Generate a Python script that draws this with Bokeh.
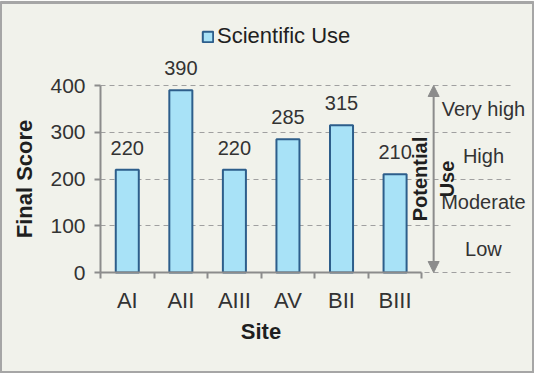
import math
from bokeh.plotting import figure
from bokeh.models import (Range1d, FixedTicker, ColumnDataSource, LabelSet, Label,
                          Arrow, NormalHead, Legend, LegendItem)
from bokeh.core.properties import value
from bokeh.embed import file_html
from bokeh.resources import INLINE

# ---- data ----
sites = ["AI", "AII", "AIII", "AV", "BII", "BIII"]
scores = [220, 390, 220, 285, 315, 210]
series_name = "Scientific Use"
y_ticks = [0, 100, 200, 300, 400]
levels = ["Low", "Moderate", "High", "Very high"]
level_bounds = [0, 100, 200, 300, 400]
x_title = "Site"
y_title = "Final Score"
side_title = "Potential\nUse"

# ---- style ----
BG = "#f1f2eb"
FONT = "Liberation Sans"
TXT = "#1f1f1f"
LBL = "#333333"
AXIS = "#8c8c8c"
GRID = "#a0a0a0"
BAR_FILL = "#a8e2f7"
BAR_LINE = "#2d5e8b"

W, H = 534, 373
TOP = 2
PX_X = 53.56           # px per category
PX_Y = 0.4675          # px per score unit
AXIS_LEFT_PX = 100     # y axis position from canvas left
AXIS_BOTTOM_PX = 270   # x axis position from frame top

xs = 0.5 - AXIS_LEFT_PX / PX_X
xe = xs + W / PX_X
ye = AXIS_BOTTOM_PX / PX_Y
ys = ye - (H - TOP) / PX_Y

x_pos = [i + 1 for i in range(len(sites))]
src = ColumnDataSource(dict(x=x_pos, site=sites, score=scores,
                            label=[str(s) for s in scores]))

p = figure(width=W, height=H, output_backend="svg", toolbar_location=None,
           x_range=Range1d(xs, xe), y_range=Range1d(ys, ye),
           min_border_left=0, min_border_right=0, min_border_top=TOP,
           min_border_bottom=0)
p.background_fill_color = BG
p.border_fill_color = BG
p.outline_line_color = "#a6a6a6"
p.outline_line_width = 3

bars = p.vbar(x="x", top="score", bottom=0, width=0.43, source=src,
              fill_color=BAR_FILL, line_color=BAR_LINE, line_width=2)

# grid
p.xgrid.visible = False
p.ygrid.ticker = FixedTicker(ticks=y_ticks)
p.ygrid.cross_bounds = (0.5, 8.23)
p.ygrid.grid_line_color = GRID
p.ygrid.grid_line_dash = "5 4"
p.ygrid.grid_line_width = 1

# y axis
yax = p.yaxis[0]
yax.fixed_location = 0.5
yax.bounds = (y_ticks[0], y_ticks[-1])
yax.ticker = FixedTicker(ticks=y_ticks)
yax.axis_line_color = AXIS
yax.axis_line_width = 2
yax.major_tick_line_color = AXIS
yax.major_tick_line_width = 2
yax.major_tick_out = 6
yax.major_tick_in = 0
yax.minor_tick_line_color = None
yax.major_label_text_font = FONT
yax.major_label_text_font_size = "21px"
yax.major_label_text_color = LBL
yax.major_label_standoff = 9
yax.axis_label = y_title
yax.axis_label_text_font = FONT
yax.axis_label_text_font_size = "22px"
yax.axis_label_text_font_style = "bold"
yax.axis_label_text_color = TXT
yax.axis_label_standoff = 10

# x axis
xax = p.xaxis[0]
xax.fixed_location = 0
xax.ticker = FixedTicker(ticks=x_pos,
                         minor_ticks=[i + 0.5 for i in range(len(sites) + 1)])
xax.bounds = (0.5, len(sites) + 0.5)
xax.major_label_overrides = {x: s for x, s in zip(x_pos, sites)}
xax.axis_line_color = AXIS
xax.axis_line_width = 2
xax.major_tick_line_color = None
xax.major_tick_out = 0
xax.major_tick_in = 0
xax.minor_tick_line_color = AXIS
xax.minor_tick_line_width = 2
xax.minor_tick_out = 6
xax.minor_tick_in = 0
xax.major_label_text_font = FONT
xax.major_label_text_font_size = "22px"
xax.major_label_text_color = LBL
xax.major_label_standoff = 9
xax.axis_label = x_title
xax.axis_label_text_font = FONT
xax.axis_label_text_font_size = "22px"
xax.axis_label_text_font_style = "bold"
xax.axis_label_text_color = TXT
xax.axis_label_standoff = 3

# value labels
p.add_layout(LabelSet(x="x", y="score", text="label", source=src,
                      text_align="center", text_baseline="middle", y_offset=22,
                      text_font=value(FONT), text_font_size="20px",
                      text_color=LBL))

# potential use scale on the right
ARROW_X = 6.72
LEVEL_X = 7.65
head = dict(size=11, fill_color=AXIS, line_color=AXIS)
p.add_layout(Arrow(x_start=ARROW_X, y_start=level_bounds[0],
                   x_end=ARROW_X, y_end=level_bounds[-1],
                   start=NormalHead(**head), end=NormalHead(**head),
                   line_color=AXIS, line_width=2))
lvl_src = ColumnDataSource(dict(
    x=[LEVEL_X] * len(levels),
    y=[(level_bounds[i] + level_bounds[i + 1]) / 2 for i in range(len(levels))],
    t=levels))
p.add_layout(LabelSet(x="x", y="y", text="t", source=lvl_src,
                      text_align="center", text_baseline="middle",
                      text_font=value(FONT), text_font_size="20px",
                      text_color=LBL))
p.add_layout(Label(x=ARROW_X, y=(level_bounds[0] + level_bounds[-1]) / 2,
                   text=side_title, angle=math.pi / 2, text_align="center",
                   text_baseline="middle", text_font=FONT, text_font_size="20px",
                   text_font_style="bold", text_color=TXT))

# legend
legend = Legend(items=[LegendItem(label=series_name, renderers=[bars])],
                location=(201, 324), glyph_width=13, glyph_height=13,
                label_standoff=3, padding=0, margin=0, spacing=0,
                border_line_color=None, background_fill_alpha=0,
                label_text_font=FONT, label_text_font_size="22px",
                label_text_color=TXT)
p.add_layout(legend)

open("out.html", "w").write(file_html(p, INLINE))
